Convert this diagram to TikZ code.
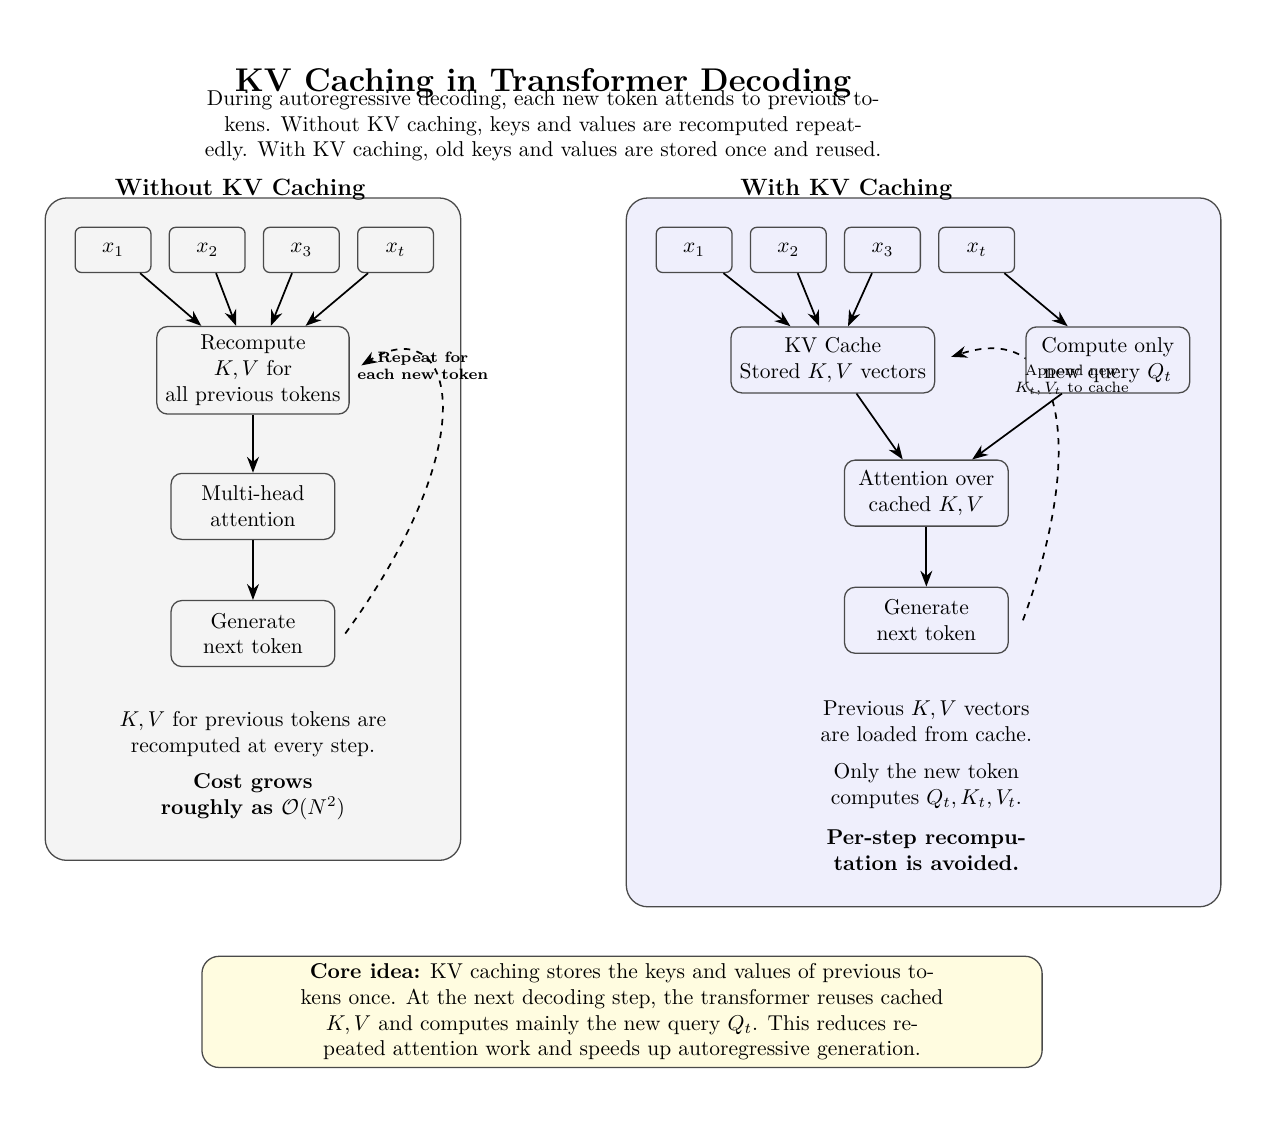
\documentclass[tikz,border=0pt]{standalone}
\usepackage{tikz}
\usetikzlibrary{positioning,arrows.meta,calc}
\usepackage{xcolor}
\definecolor{PanelGrey}{HTML}{F4F4F4}
\definecolor{PanelLilac}{HTML}{EFEFFC}
\definecolor{NoteYellow}{HTML}{FFFCE0}
\definecolor{EdgeGrey}{HTML}{4A4A4A}
\pgfdeclarelayer{background}
\pgfsetlayers{background,main}

\begin{document}
\begin{tikzpicture}[
				node distance=1cm,
				panel/.style={
					draw=EdgeGrey,
					semithick,
					rounded corners=10pt
				},
				panelhead/.style={
					font=\fontsize{11}{13.5}\selectfont\bfseries
				},
				tokbox/.style={
					draw=EdgeGrey,
					semithick,
					rounded corners=3pt,
					minimum width=1.24cm,
					minimum height=0.74cm,
					inner sep=4pt
				},
				procbox/.style={
					draw=EdgeGrey,
					semithick,
					rounded corners=5pt,
					align=center,
					minimum width=2.68cm,
					minimum height=1.08cm,
					inner sep=4pt
				},
				notetext/.style={
					align=center
				},
				arr/.style={
					-{Stealth[length=2.6mm]},
					thick
				},
				backarr/.style={
					-{Stealth[length=2.6mm]},
					thick,
					dashed
				}
				]
				
				\useasboundingbox (0,0) rectangle (20.85,-18.56);
				
				\begin{pgfonlayer}{background}
					\draw[panel, fill=PanelGrey] (0.74,-3.24) rectangle (7.54,-14.08);
					\draw[panel, fill=PanelLilac] (10.25,-3.24) rectangle (19.98,-14.84);
				\end{pgfonlayer}
				
				\node[font=\fontsize{15.3}{18}\selectfont\bfseries, anchor=base] (title) at (8.89,-1.49) {KV Caching in Transformer Decoding};
				
				\node[notetext] (subtitle) at (8.89,-2.06) {
					During autoregressive decoding, each new token attends to previous to-\\
					kens.  Without KV caching, keys and values are recomputed repeat-\\
					edly.  With KV caching, old keys and values are stored once and reused.
				};
				
				\node[panelhead] (lhead) at (3.93,-3.11) {Without KV Caching};
				\node[panelhead] (rhead) at (13.85,-3.11) {With KV Caching};
				
				\node[tokbox, fill=PanelGrey] (lx1) at (1.85,-4.09) {$x_1$};
				\node[tokbox, fill=PanelGrey, right=0.28cm of lx1] (lx2) {$x_2$};
				\node[tokbox, fill=PanelGrey, right=0.28cm of lx2] (lx3) {$x_3$};
				\node[tokbox, fill=PanelGrey, right=0.28cm of lx3] (lxt) {$x_t$};
				
				\node[procbox, fill=PanelGrey] (lrec) at (4.14,-6.06) {
					Recompute\\
					$K,V$ for\\
					all previous tokens
				};
				
				\node[
				procbox,
				fill=PanelGrey,
				below=0.95cm of lrec
				] (lmha) {
					Multi-head\\
					attention
				};
				
				\node[
				procbox,
				fill=PanelGrey,
				below=0.98cm of lmha
				] (lgen) {
					Generate\\
					next token
				};
				
				\node[notetext] (lnote) at (4.14,-12.02) {
					$K,V$ for previous tokens are\\
					recomputed at every step.
				};
				
				\node[notetext, font=\bfseries] (lcost) at (4.14,-13.04) {
					Cost grows\\
					roughly as $\mathcal{O}(N^2)$
				};
				
				\draw[arr] (lx1) -- (lrec);
				\draw[arr] (lx2) -- (lrec);
				\draw[arr] (lx3) -- (lrec);
				\draw[arr] (lxt) -- (lrec);
				\draw[arr] (lrec) -- (lmha);
				\draw[arr] (lmha) -- (lgen);
				
				\node[tokbox, fill=PanelLilac] (rx1) at (11.36,-4.09) {$x_1$};
				\node[tokbox, fill=PanelLilac, right=0.28cm of rx1] (rx2) {$x_2$};
				\node[tokbox, fill=PanelLilac, right=0.28cm of rx2] (rx3) {$x_3$};
				\node[tokbox, fill=PanelLilac, right=0.28cm of rx3] (rxt) {$x_t$};
				
				\node[procbox, fill=PanelLilac] (rkv) at (13.63,-5.89) {
					KV Cache\\
					Stored $K,V$ vectors
				};
				
				\node[procbox, fill=PanelLilac] (rcomp) at (18.13,-5.89) {
					Compute only\\
					new query $Q_t$
				};
				
				\node[procbox, fill=PanelLilac] (ratt) at (15.16,-8.07) {
					Attention over\\
					cached $K,V$
				};
				
				\node[
				procbox,
				fill=PanelLilac,
				below=0.98cm of ratt
				] (rgen) {
					Generate\\
					next token
				};
				
				\node[notetext] (rnote) at (15.16,-11.80) {
					Previous $K,V$ vectors\\
					are loaded from cache.
				};
				
				\node[notetext] (rnew) at (15.16,-12.86) {
					Only the new token\\
					computes $Q_t,K_t,V_t$.
				};
				
				\node[notetext, font=\bfseries] (ravoid) at (15.16,-13.91) {
					Per-step recompu-\\
					tation is avoided.
				};
				
				\draw[arr] (rx1) -- (rkv);
				\draw[arr] (rx2) -- (rkv);
				\draw[arr] (rx3) -- (rkv);
				\draw[arr] (rxt) -- (rcomp);
				\draw[arr] (rkv) -- (ratt);
				\draw[arr] (rcomp) -- (ratt);
				\draw[arr] (ratt) -- (rgen);
				
				\begin{pgfonlayer}{background}
					\draw[backarr] ([xshift=0.16cm]lgen.east) .. controls +(2.38,3.27) and +(1.48,0.91) .. ([xshift=0.19cm,yshift=0.08cm]lrec.east);
					\draw[backarr] ([xshift=0.23cm]rgen.east) .. controls +(1.03,2.78) and +(1.88,0.61) .. ([xshift=0.26cm,yshift=0.05cm]rkv.east);
				\end{pgfonlayer}
				
				\node[font=\scriptsize\bfseries, align=center] (lrepeat) at (6.92,-5.99) {
					Repeat for\\
					each new token
				};
				
				\node[font=\scriptsize, align=center] (rappend) at (17.54,-6.22) {
					Append new\\
					$K_t, V_t$ to cache
				};
				
				\node[
				draw=EdgeGrey,
				semithick,
				rounded corners=8pt,
				fill=NoteYellow,
				minimum width=13.75cm,
				minimum height=1.80cm,
				align=center
				] (core) at (10.18,-16.56) {
					\textbf{Core idea:} KV caching stores the keys and values of previous to-\\
					kens once.  At the next decoding step, the transformer reuses cached\\
					$K,V$ and computes mainly the new query $Q_t$.  This reduces re-\\
					peated attention work and speeds up autoregressive generation.
				};
				
			\end{tikzpicture}
\end{document}
